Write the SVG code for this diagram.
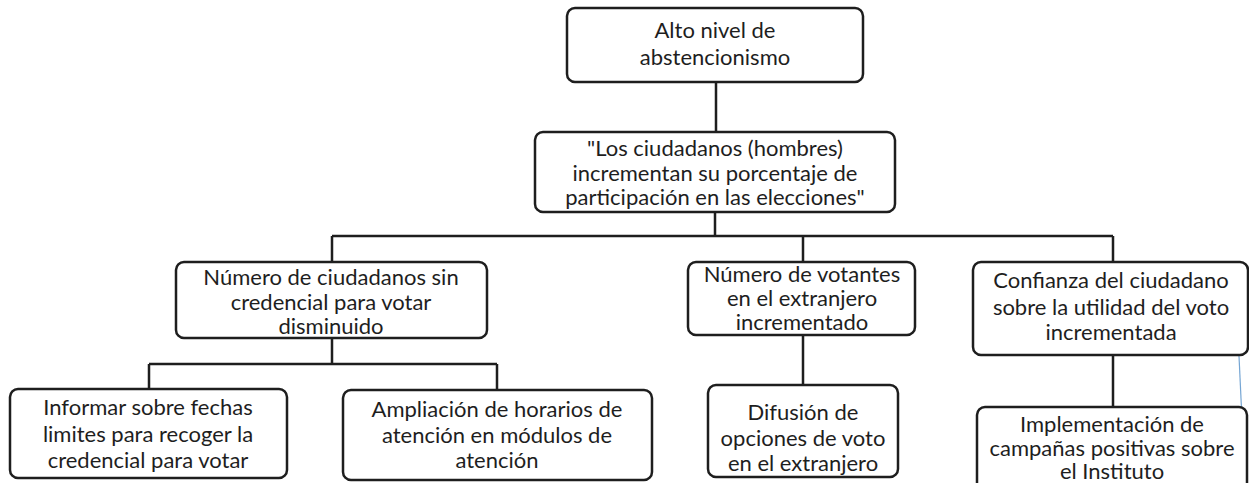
<svg xmlns="http://www.w3.org/2000/svg" width="1249" height="483" viewBox="0 0 1249 483">
<style>
.box{fill:#fff;stroke:#1e1e1e;stroke-width:2.5}
.t{font-family:Lato,"Noto Sans","Liberation Sans",sans-serif;font-size:22px;fill:#1e1e1e;text-anchor:middle}
.c{stroke:#1e1e1e;stroke-width:2.5;fill:none}
</style>
<rect width="1249" height="483" fill="#fff"/>
<g id="connectors">
<path class="c" d="M716 82V132M715 212V236M332 236H1113M332 236V262M803 236V262M1113 236V262M332 338V364M149 364H497M149 364V389M497 364V390M803 335V385M1113 355V407"/>
<path d="M1238 335L1245 483" stroke="#3a7fc0" stroke-width="1.2" fill="none" opacity="0.7"/>
</g>
<g id="n0"><rect class="box" x="567" y="8" width="296" height="74" rx="8"/>
<text class="t"><tspan x="715" y="38">Alto nivel de</tspan><tspan x="715" y="65">abstencionismo</tspan></text></g>
<g id="n1"><rect class="box" x="535" y="132" width="360" height="80" rx="8"/>
<text class="t"><tspan x="715" y="156">"Los ciudadanos (hombres)</tspan><tspan x="715" y="181">incrementan su porcentaje de</tspan><tspan x="715" y="205">participación en las elecciones"</tspan></text></g>
<g id="n2"><rect class="box" x="176" y="262" width="311" height="76" rx="8"/>
<text class="t"><tspan x="331" y="285">Número de ciudadanos sin</tspan><tspan x="331" y="310">credencial para votar</tspan><tspan x="331" y="334">disminuido</tspan></text></g>
<g id="n3"><rect class="box" x="688" y="262" width="227" height="73" rx="8"/>
<text class="t"><tspan x="802" y="282">Número de votantes</tspan><tspan x="802" y="306">en el extranjero</tspan><tspan x="802" y="330">incrementado</tspan></text></g>
<g id="n4"><rect class="box" x="973" y="262" width="275" height="93" rx="8"/>
<text class="t"><tspan x="1111" y="288">Confianza del ciudadano</tspan><tspan x="1111" y="315">sobre la utilidad del voto</tspan><tspan x="1111" y="340">incrementada</tspan></text></g>
<g id="n5"><rect class="box" x="10" y="389" width="277" height="89" rx="8"/>
<text class="t"><tspan x="148" y="415">Informar sobre fechas</tspan><tspan x="148" y="442">limites para recoger la</tspan><tspan x="148" y="468">credencial para votar</tspan></text></g>
<g id="n6"><rect class="box" x="343" y="390" width="309" height="90" rx="8"/>
<text class="t"><tspan x="497" y="417">Ampliación de horarios de</tspan><tspan x="497" y="443">atención en módulos de</tspan><tspan x="497" y="468">atención</tspan></text></g>
<g id="n7"><rect class="box" x="708" y="385" width="190" height="92" rx="8"/>
<text class="t"><tspan x="803" y="420">Difusión de</tspan><tspan x="803" y="446">opciones de voto</tspan><tspan x="803" y="471">en el extranjero</tspan></text></g>
<g id="n8"><rect class="box" x="977" y="407" width="270" height="85" rx="8"/>
<text class="t"><tspan x="1112" y="432">Implementación de</tspan><tspan x="1112" y="456">campañas positivas sobre</tspan><tspan x="1112" y="479">el Instituto</tspan></text></g>
</svg>
